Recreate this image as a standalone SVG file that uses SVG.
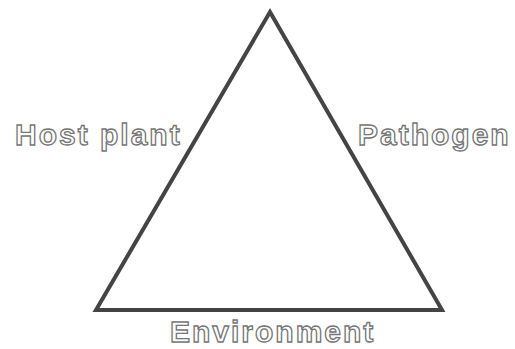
<svg xmlns="http://www.w3.org/2000/svg" width="515" height="349" viewBox="0 0 515 349">
<style>
.lbl{font-family:"Liberation Sans",Arial,sans-serif;font-weight:bold;font-size:30px;letter-spacing:2px;fill:#ffffff;stroke:#757575;stroke-width:1.3px;}
.edge{fill:none;stroke:#444444;stroke-width:4;stroke-linejoin:miter;stroke-linecap:butt;}
</style>
<rect width="515" height="349" fill="#ffffff"/>
<g id="connectors">
<polygon class="edge" points="270,12 96,310 442,310"/>
</g>
<g id="host-plant"><text class="lbl" x="15" y="145">Host plant</text></g>
<g id="pathogen"><text class="lbl" x="358" y="145">Pathogen</text></g>
<g id="environment"><text class="lbl" x="170" y="341.5">Environment</text></g>
</svg>
